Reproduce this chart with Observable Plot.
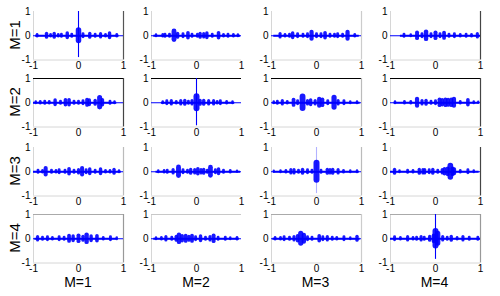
<!DOCTYPE html>
<html>
<head>
<meta charset="utf-8">
<script src="https://cdn.jsdelivr.net/npm/d3@7"></script>
<script src="https://cdn.jsdelivr.net/npm/@observablehq/plot@0.6"></script>
<style>
  html, body { margin: 0; padding: 0; background: #fff; }
  #root { position: relative; width: 500px; height: 296px; overflow: hidden; background: #fff; font-family: "Liberation Sans", Arial, sans-serif; }
  .panel { position: absolute; }
  .rowlab { position: absolute; font-size: 15px; color: #000; transform: translate(-50%, -50%) rotate(-90deg); white-space: nowrap; line-height: 1; }
  .collab { position: absolute; font-size: 14px; color: #000; transform: translate(-50%, -50%); white-space: nowrap; line-height: 1; }
</style>
</head>
<body>
<div id="root"></div>
<script>
// ---------- data ----------
const rowLabels = ["M=1", "M=2", "M=3", "M=4"];
const colLabels = ["M=1", "M=2", "M=3", "M=4"];
const xTicks = [-1, 0, 1];
const yTicks = [-1, 0, 1];

// bursts: [lag, envelope amplitude]
const p11 = [[-0.92,0.04],[-0.71,0.08],[-0.62,0.04],[-0.54,0.08],[-0.45,0.04],[-0.38,0.05],[-0.25,0.09],[-0.15,0.05],[0,0.22],[0.1,0.06],[0.25,0.08],[0.37,0.05],[0.49,0.07],[0.6,0.04],[0.69,0.09],[0.85,0.04]];
const p12 = [[-0.9,0.03],[-0.75,0.04],[-0.7,0.05],[-0.6,0.05],[-0.5,0.18],[-0.42,0.08],[-0.3,0.06],[-0.19,0.1],[-0.1,0.05],[0.02,0.05],[0.08,0.08],[0.16,0.07],[0.23,0.09],[0.35,0.05],[0.49,0.1],[0.6,0.04],[0.7,0.05],[0.82,0.04],[0.92,0.03]];
const p13 = [[-0.81,0.07],[-0.7,0.04],[-0.6,0.05],[-0.53,0.09],[-0.42,0.06],[-0.3,0.05],[-0.2,0.06],[-0.11,0.14],[0,0.06],[0.1,0.06],[0.19,0.1],[0.3,0.05],[0.4,0.05],[0.47,0.06],[0.58,0.05],[0.69,0.14],[0.85,0.04]];
const p14 = [[-0.7,0.05],[-0.55,0.03],[-0.41,0.12],[-0.3,0.06],[-0.21,0.15],[-0.1,0.06],[0,0.12],[0.1,0.06],[0.19,0.11],[0.3,0.05],[0.42,0.06],[0.55,0.04],[0.68,0.05],[0.8,0.04],[0.93,0.07]];
const p21 = [[-0.95,0.03],[-0.85,0.04],[-0.75,0.05],[-0.65,0.04],[-0.52,0.09],[-0.4,0.05],[-0.29,0.1],[-0.21,0.1],[-0.1,0.05],[0,0.05],[0.1,0.06],[0.19,0.11],[0.24,0.09],[0.37,0.08],[0.47,0.19],[0.53,0.1],[0.7,0.05],[0.8,0.03]];
const p22 = [[-0.75,0.03],[-0.66,0.06],[-0.56,0.07],[-0.45,0.04],[-0.35,0.07],[-0.26,0.08],[-0.18,0.05],[-0.1,0.07],[0,0.25],[0.08,0.08],[0.16,0.08],[0.27,0.07],[0.38,0.07],[0.46,0.04],[0.53,0.06],[0.67,0.04],[0.8,0.03]];
const p23 = [[-0.95,0.03],[-0.87,0.05],[-0.76,0.07],[-0.65,0.04],[-0.51,0.11],[-0.42,0.06],[-0.31,0.24],[-0.2,0.07],[-0.13,0.09],[-0.03,0.07],[0.06,0.14],[0.13,0.12],[0.25,0.06],[0.39,0.2],[0.48,0.07],[0.61,0.06],[0.75,0.03],[0.9,0.03]];
const p24 = [[-0.9,0.03],[-0.69,0.04],[-0.55,0.04],[-0.41,0.14],[-0.3,0.07],[-0.21,0.08],[-0.1,0.05],[0,0.06],[0.09,0.12],[0.15,0.1],[0.22,0.12],[0.28,0.11],[0.35,0.12],[0.41,0.14],[0.55,0.04],[0.72,0.1],[0.85,0.03],[0.95,0.02]];
const p31 = [[-0.9,0.05],[-0.8,0.04],[-0.73,0.13],[-0.6,0.05],[-0.5,0.04],[-0.43,0.06],[-0.3,0.05],[-0.21,0.1],[-0.1,0.05],[0,0.07],[0.08,0.13],[0.17,0.06],[0.25,0.09],[0.37,0.05],[0.49,0.09],[0.6,0.04],[0.7,0.04],[0.79,0.08],[0.9,0.03]];
const p32 = [[-0.85,0.03],[-0.72,0.04],[-0.65,0.05],[-0.52,0.07],[-0.4,0.18],[-0.3,0.06],[-0.2,0.05],[-0.13,0.08],[-0.04,0.07],[0.03,0.1],[0.1,0.07],[0.16,0.08],[0.24,0.05],[0.31,0.17],[0.42,0.06],[0.49,0.09],[0.6,0.05],[0.75,0.04],[0.9,0.02]];
const p33 = [[-0.95,0.02],[-0.8,0.03],[-0.68,0.04],[-0.57,0.07],[-0.5,0.07],[-0.4,0.05],[-0.31,0.08],[-0.2,0.06],[-0.1,0.05],[0,0.35],[0.1,0.05],[0.24,0.08],[0.3,0.07],[0.36,0.08],[0.48,0.07],[0.6,0.04],[0.75,0.03],[0.9,0.03]];
const p34 = [[-0.91,0.08],[-0.8,0.03],[-0.62,0.05],[-0.5,0.04],[-0.36,0.08],[-0.28,0.07],[-0.24,0.07],[-0.14,0.06],[-0.06,0.08],[0.05,0.05],[0.15,0.07],[0.2,0.1],[0.27,0.12],[0.33,0.23],[0.38,0.12],[0.42,0.09],[0.55,0.04],[0.72,0.06],[0.85,0.03]];
const p41 = [[-0.91,0.07],[-0.8,0.05],[-0.69,0.06],[-0.58,0.04],[-0.43,0.06],[-0.32,0.05],[-0.21,0.11],[-0.12,0.09],[0,0.12],[0.1,0.08],[0.18,0.15],[0.28,0.09],[0.41,0.1],[0.55,0.04],[0.71,0.06],[0.85,0.03]];
const p42 = [[-0.9,0.03],[-0.78,0.04],[-0.68,0.07],[-0.55,0.05],[-0.45,0.08],[-0.39,0.15],[-0.32,0.1],[-0.24,0.11],[-0.17,0.08],[-0.1,0.11],[-0.02,0.06],[0.09,0.09],[0.2,0.05],[0.3,0.07],[0.38,0.12],[0.48,0.05],[0.64,0.05],[0.75,0.03],[0.9,0.04]];
const p43 = [[-0.92,0.04],[-0.8,0.04],[-0.72,0.06],[-0.6,0.05],[-0.5,0.07],[-0.42,0.1],[-0.35,0.2],[-0.28,0.14],[-0.2,0.06],[-0.1,0.05],[0.06,0.1],[0.14,0.06],[0.24,0.07],[0.35,0.05],[0.45,0.04],[0.61,0.06],[0.75,0.03],[0.9,0.08]];
const p44 = [[-0.91,0.06],[-0.78,0.04],[-0.62,0.07],[-0.5,0.04],[-0.42,0.05],[-0.32,0.07],[-0.25,0.05],[-0.13,0.08],[-0.04,0.12],[0,0.3],[0.05,0.2],[0.16,0.07],[0.26,0.05],[0.35,0.08],[0.48,0.04],[0.61,0.07],[0.75,0.05],[0.94,0.05]];

// extent of the noisy part of each trace [from, to]
const noise11 = [-0.95, 0.9],  noise12 = [-0.95, 0.98], noise13 = [-0.95, 0.95], noise14 = [-0.78, 1];
const noise21 = [-1, 0.85],    noise22 = [-0.78, 0.85], noise23 = [-0.97, 0.97], noise24 = [-0.92, 0.97];
const noise31 = [-1, 0.95],    noise32 = [-0.9, 0.98],  noise33 = [-0.95, 0.95], noise34 = [-1, 0.97];
const noise41 = [-0.97, 0.85], noise42 = [-0.95, 0.95], noise43 = [-0.97, 0.97], noise44 = [-1, 1];

// zero-lag peaks on the diagonal: [bottom, top]
const spike11 = [-0.9, 1.0];
const spike22 = [-0.95, 1.0];
const spike33 = [-0.9, 1.0];
const spike44 = [-0.85, 1.0];

// ---------- layout / style ----------
const bursts = [[p11,p12,p13,p14],[p21,p22,p23,p24],[p31,p32,p33,p34],[p41,p42,p43,p44]];
const noises = [[noise11,noise12,noise13,noise14],[noise21,noise22,noise23,noise24],[noise31,noise32,noise33,noise34],[noise41,noise42,noise43,noise44]];
const spikes = {"0,0": spike11, "1,1": spike22, "2,2": spike33, "3,3": spike44};
const spikeOpacity = {"0,0": 1, "1,1": 1, "2,2": 0.3, "3,3": 1};
const colLeft = [33, 151, 270.5, 389.5];
const rowTop = [10.5, 78, 146.5, 214];
const PW = 90, PH = 48.5;
const ML = 30, MR = 8, MT = 6, MB = 16;
const topColor = [[null,null,null,null],["#000","#000","#000","#000"],[null,null,null,null],["#aaa","#c8c8c8","#aaa","#aaa"]];
const rightColor = [["#555",null,"#ccc","#444"],["#444",null,"#bbb","#444"],["#bbb",null,"#bbb","#444"],["#999",null,"#ccc","#999"]];
const BLUE = "#0000ff";
const FONT = "'Liberation Sans', Arial, Helvetica, sans-serif";

const root = document.getElementById("root");

for (let r = 0; r < 4; r++) {
  for (let c = 0; c < 4; c++) {
    const key = r + "," + c;
    const rng = noises[r][c];
    const marks = [
      Plot.ruleX([-1], {stroke: "#d6d6d6", strokeWidth: 1}),
      Plot.ruleY([-1], {stroke: "#d6d6d6", strokeWidth: 1})
    ];
    if (topColor[r][c]) marks.push(Plot.ruleY([1], {stroke: topColor[r][c], strokeWidth: 1.2}));
    if (rightColor[r][c]) marks.push(Plot.ruleX([1], {stroke: rightColor[r][c], strokeWidth: 1.2}));
    marks.push(
      Plot.ruleY([{y: 0, x1: -1, x2: 1}], {y: "y", x1: "x1", x2: "x2", stroke: BLUE, strokeWidth: 1}),
      Plot.ruleY([{y: 0, x1: rng[0], x2: rng[1]}], {y: "y", x1: "x1", x2: "x2", stroke: BLUE, strokeWidth: 1.8})
    );
    if (spikes[key]) {
      const s = spikes[key];
      marks.push(Plot.ruleX([{x: 0, y1: s[0], y2: s[1]}], {x: "x", y1: "y1", y2: "y2", stroke: BLUE, strokeWidth: 1.1, strokeOpacity: spikeOpacity[key]}));
    }
    marks.push(
      Plot.ruleX(bursts[r][c], {
        x: d => d[0], y1: d => -d[1], y2: d => d[1],
        stroke: BLUE,
        strokeOpacity: 0.9,
        strokeWidth: d => Math.min(6, 2 + d[1] * 16),
        strokeLinecap: "round"
      })
    );
    const chart = Plot.plot({
      width: PW + ML + MR,
      height: PH + MT + MB,
      marginLeft: ML, marginRight: MR, marginTop: MT, marginBottom: MB,
      style: {background: "transparent", overflow: "visible", fontFamily: FONT, fontSize: "10px", color: "#000"},
      x: {domain: [-1, 1], ticks: xTicks, tickSize: 0, tickPadding: 2, tickFormat: d => String(d), label: null},
      y: {domain: [-1, 1], ticks: yTicks, tickSize: 0, tickPadding: 3, tickFormat: d => String(d), label: null},
      marks
    });
    chart.classList.add("panel");
    chart.style.left = (colLeft[c] - ML) + "px";
    chart.style.top = (rowTop[r] - MT) + "px";
    root.appendChild(chart);
  }
}

rowLabels.forEach((t, r) => {
  const el = document.createElement("div");
  el.className = "rowlab";
  el.textContent = t;
  el.style.left = "14px";
  el.style.top = (rowTop[r] + PH / 2) + "px";
  root.appendChild(el);
});
colLabels.forEach((t, c) => {
  const el = document.createElement("div");
  el.className = "collab";
  el.textContent = t;
  el.style.left = (colLeft[c] + PW / 2) + "px";
  el.style.top = "282px";
  root.appendChild(el);
});
</script>
</body>
</html>
